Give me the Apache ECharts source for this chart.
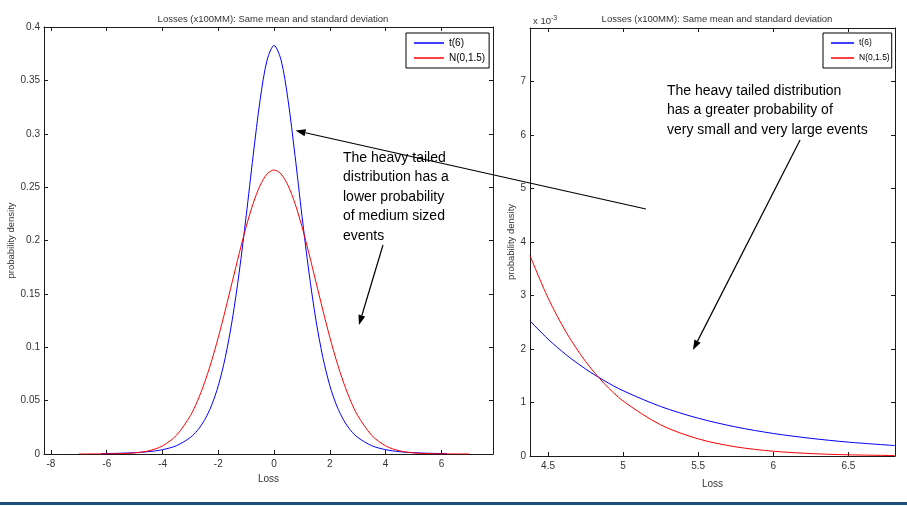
<!DOCTYPE html>
<html>
<head>
<meta charset="utf-8">
<script src="https://cdn.jsdelivr.net/npm/echarts@6/dist/echarts.min.js"></script>
<style>
  html, body { margin: 0; padding: 0; background: #fff; }
  #chart { width: 907px; height: 506px; }
</style>
</head>
<body>
<div id="chart"></div>
<script>
// ---- Data ----
const titleText = 'Losses (x100MM): Same mean and standard deviation';
const seriesNames = ['t(6)', 'N(0,1.5)'];

// Left panel: full densities
const tX = [-6.2,-6,-5.5,-5,-4.5,-4,-3.5,-3,-2.75,-2.5,-2.25,-2,-1.75,-1.5,-1.25,-1,-0.75,-0.5,-0.25,0,
            0.25,0.5,0.75,1,1.25,1.5,1.75,2,2.25,2.5,2.75,3,3.5,4,4.5,5,5.5,6,6.2];
const tDens = [0.00035,0.00042,0.00071,0.00122,0.00219,0.00406,0.0078,0.0155,0.0220,0.0315,0.0450,0.0640,0.0904,0.1256,0.1703,0.2231,0.2797,0.3318,0.3691,0.3827,
               0.3691,0.3318,0.2797,0.2231,0.1703,0.1256,0.0904,0.0640,0.0450,0.0315,0.0220,0.0155,0.0078,0.00406,0.00219,0.00122,0.00071,0.00042,0.00035];
const nX = [-7,-6.5,-6,-5.5,-5,-4.5,-4,-3.5,-3,-2.75,-2.5,-2.25,-2,-1.75,-1.5,-1.25,-1,-0.75,-0.5,-0.25,0,
            0.25,0.5,0.75,1,1.25,1.5,1.75,2,2.25,2.5,2.75,3,3.5,4,4.5,5,5.5,6,6.5,7];
const nDens = [0.000005,0.00002,0.00009,0.00032,0.00103,0.00296,0.0076,0.0175,0.0360,0.0495,0.0663,0.0863,0.1093,0.1347,0.1613,0.1879,0.2130,0.2347,0.2516,0.2623,0.2660,
               0.2623,0.2516,0.2347,0.2130,0.1879,0.1613,0.1347,0.1093,0.0863,0.0663,0.0495,0.0360,0.0175,0.0076,0.00296,0.00103,0.00032,0.00009,0.00002,0.000005];

// Right panel: right tail
const tailX = [4.38,4.5,4.625,4.75,4.875,5,5.25,5.5,5.75,6,6.25,6.5,6.81];
const tTail = [0.002526,0.002185,0.001883,0.001626,0.001407,0.001220,0.000925,0.000706,0.000543,0.000421,0.000330,0.000259,0.000195];
const nTail = [0.003746,0.002955,0.002293,0.001767,0.001353,0.001028,0.000582,0.000320,0.000171,0.0000892,0.0000452,0.0000222,0.0000089];

// Tick labels
const leftXTicks = [-8,-6,-4,-2,0,2,4,6];
const rightXTicks = [4.5,5,5.5,6,6.5];
const rightYTicks = [0,0.001,0.002,0.003,0.004,0.005,0.006,0.007];

// Annotation texts
const noteLeft = 'The heavy tailed\ndistribution has a\nlower probability\nof medium sized\nevents';
const noteRight = 'The heavy tailed distribution\nhas a greater probability of\nvery small and very large events';

// ---- Build ----
const FONT = '"Liberation Sans", Arial, sans-serif';
const pairs = (xs, ys) => xs.map((x, i) => [x, ys[i]]);
const BLUE = '#0000ff', RED = '#ff0000', AX = '#1a1a1a', LBL = '#333';

function xAxisPair(grid, min, max, ticks, nameGap) {
  return [
    { gridIndex: grid, type: 'value', min, max, position: 'bottom',
      axisLine: { onZero: false, lineStyle: { color: AX, width: 1 } },
      axisTick: { inside: true, length: 4, customValues: ticks, lineStyle: { color: AX } },
      axisLabel: { customValues: ticks, color: LBL, fontSize: 10, fontFamily: FONT, margin: 5 },
      splitLine: { show: false },
      name: 'Loss', nameLocation: 'middle', nameGap,
      nameTextStyle: { color: LBL, fontSize: 10, fontFamily: FONT, verticalAlign: 'top' } },
    { gridIndex: grid, type: 'value', min, max, position: 'top',
      axisLine: { onZero: false, lineStyle: { color: AX, width: 1 } },
      axisTick: { inside: true, length: 4, customValues: ticks, lineStyle: { color: AX } },
      axisLabel: { show: false }, splitLine: { show: false } }
  ];
}

const chart = echarts.init(document.getElementById('chart'), null, { renderer: 'canvas' });

const option = {
  animation: false,
  backgroundColor: '#fff',
  textStyle: { fontFamily: FONT },
  title: [
    { text: titleText, left: 268, top: 9, textAlign: 'center',
      textStyle: { fontSize: 9.5, fontWeight: 'normal', color: LBL, fontFamily: FONT } },
    { text: titleText, left: 712, top: 9, textAlign: 'center',
      textStyle: { fontSize: 9.5, fontWeight: 'normal', color: LBL, fontFamily: FONT } },
    { text: 'x 10{s|-3}', left: 528, top: 10,
      textStyle: { fontSize: 9.5, fontWeight: 'normal', color: LBL, fontFamily: FONT,
        rich: { s: { fontSize: 7, color: LBL, verticalAlign: 'top', padding: [0, 0, 6, 0] } } } }
  ],
  legend: [
    { left: 406, top: 33, orient: 'vertical', data: seriesNames, icon: 'rect',
      itemWidth: 30, itemHeight: 1.5, itemGap: 3, padding: [4, 4, 4, 8],
      borderColor: '#000', borderWidth: 1, backgroundColor: '#fff', borderRadius: 0,
      textStyle: { fontSize: 10, color: '#000', fontFamily: FONT, lineHeight: 12 }, selectedMode: false },
    { left: 823, top: 33, orient: 'vertical', data: seriesNames, icon: 'rect',
      itemWidth: 23, itemHeight: 1.5, itemGap: 3, padding: [4, 2, 4, 8],
      borderColor: '#000', borderWidth: 1, backgroundColor: '#fff', borderRadius: 0,
      textStyle: { fontSize: 8.5, color: '#000', fontFamily: FONT, lineHeight: 12 }, selectedMode: false }
  ],
  grid: [
    { left: 44, top: 27, width: 449, height: 427 },
    { left: 530, top: 28, width: 365, height: 428 }
  ],
  xAxis: [
    ...xAxisPair(0, -8.25, 7.85, leftXTicks, 20),
    ...xAxisPair(1, 4.38, 6.81, rightXTicks, 23)
  ],
  yAxis: [
    { gridIndex: 0, type: 'value', min: 0, max: 0.4, interval: 0.05, position: 'left',
      axisLine: { show: true, onZero: false, lineStyle: { color: AX } },
      axisTick: { show: true, inside: true, length: 4, lineStyle: { color: AX } },
      axisLabel: { color: LBL, fontSize: 10, fontFamily: FONT, margin: 4 },
      splitLine: { show: false },
      name: 'probability density', nameLocation: 'middle', nameGap: 28,
      nameTextStyle: { color: LBL, fontSize: 9.5, fontFamily: FONT } },
    { gridIndex: 0, type: 'value', min: 0, max: 0.4, interval: 0.05, position: 'right',
      axisLine: { show: true, onZero: false, lineStyle: { color: AX } },
      axisTick: { show: true, inside: true, length: 4, lineStyle: { color: AX } },
      axisLabel: { show: false }, splitLine: { show: false } },
    { gridIndex: 1, type: 'value', min: 0, max: 0.008, position: 'left',
      axisLine: { show: true, onZero: false, lineStyle: { color: AX } },
      axisTick: { show: true, inside: true, length: 4, customValues: rightYTicks, lineStyle: { color: AX } },
      axisLabel: { customValues: rightYTicks, color: LBL, fontSize: 10, fontFamily: FONT, margin: 4,
        formatter: v => String(Math.round(v * 1000)) },
      splitLine: { show: false },
      name: 'probability density', nameLocation: 'middle', nameGap: 9,
      nameTextStyle: { color: LBL, fontSize: 9.5, fontFamily: FONT } },
    { gridIndex: 1, type: 'value', min: 0, max: 0.008, position: 'right',
      axisLine: { show: true, onZero: false, lineStyle: { color: AX } },
      axisTick: { show: true, inside: true, length: 4, customValues: rightYTicks, lineStyle: { color: AX } },
      axisLabel: { show: false }, splitLine: { show: false } }
  ],
  series: [
    { name: seriesNames[0], type: 'line', xAxisIndex: 0, yAxisIndex: 0, data: pairs(tX, tDens),
      symbol: 'none', smooth: 0.3, lineStyle: { color: BLUE, width: 1 }, itemStyle: { color: BLUE } },
    { name: seriesNames[1], type: 'line', xAxisIndex: 0, yAxisIndex: 0, data: pairs(nX, nDens),
      symbol: 'none', smooth: 0.3, lineStyle: { color: RED, width: 1 }, itemStyle: { color: RED } },
    { name: seriesNames[0], type: 'line', xAxisIndex: 2, yAxisIndex: 2, data: pairs(tailX, tTail),
      symbol: 'none', smooth: 0.3, lineStyle: { color: BLUE, width: 1 }, itemStyle: { color: BLUE } },
    { name: seriesNames[1], type: 'line', xAxisIndex: 2, yAxisIndex: 2, data: pairs(tailX, nTail),
      symbol: 'none', smooth: 0.3, lineStyle: { color: RED, width: 1 }, itemStyle: { color: RED } }
  ]
};
chart.setOption(option);

// ---- Annotations (anchored in data coordinates) ----
function px(grid, pt) { return chart.convertToPixel({ gridIndex: grid }, pt); }
function arrow(p1, p2) {
  const dx = p2[0] - p1[0], dy = p2[1] - p1[1];
  const L = Math.hypot(dx, dy), ux = dx / L, uy = dy / L;
  const hl = 10, hw = 3.5;
  const bx = p2[0] - ux * hl, by = p2[1] - uy * hl;
  return [
    { type: 'line', z: 100, shape: { x1: p1[0], y1: p1[1], x2: bx, y2: by },
      style: { stroke: '#000', lineWidth: 1.2 } },
    { type: 'polygon', z: 100, shape: { points: [[p2[0], p2[1]], [bx - uy * hw, by + ux * hw], [bx + uy * hw, by - ux * hw]] },
      style: { fill: '#000' } }
  ];
}
const graphics = [
  ...arrow(px(1, [5.152, 0.004617]), px(0, [0.77, 0.303])),
  ...arrow(px(0, [3.905, 0.1958]), px(0, [3.044, 0.1208])),
  ...arrow(px(1, [6.178, 0.005907]), px(1, [5.465, 0.001981])),
  { type: 'text', z: 100, left: 343, top: 148,
    style: { text: noteLeft, font: '14px ' + FONT, fill: '#000', lineHeight: 19.5 } },
  { type: 'text', z: 100, left: 667, top: 81,
    style: { text: noteRight, font: '14px ' + FONT, fill: '#000', lineHeight: 19.5 } },
  { type: 'rect', z: 100, shape: { x: 0, y: 502, width: 907, height: 3 }, style: { fill: '#1f4e79' } }
];
chart.setOption({ graphic: graphics });
</script>
</body>
</html>
